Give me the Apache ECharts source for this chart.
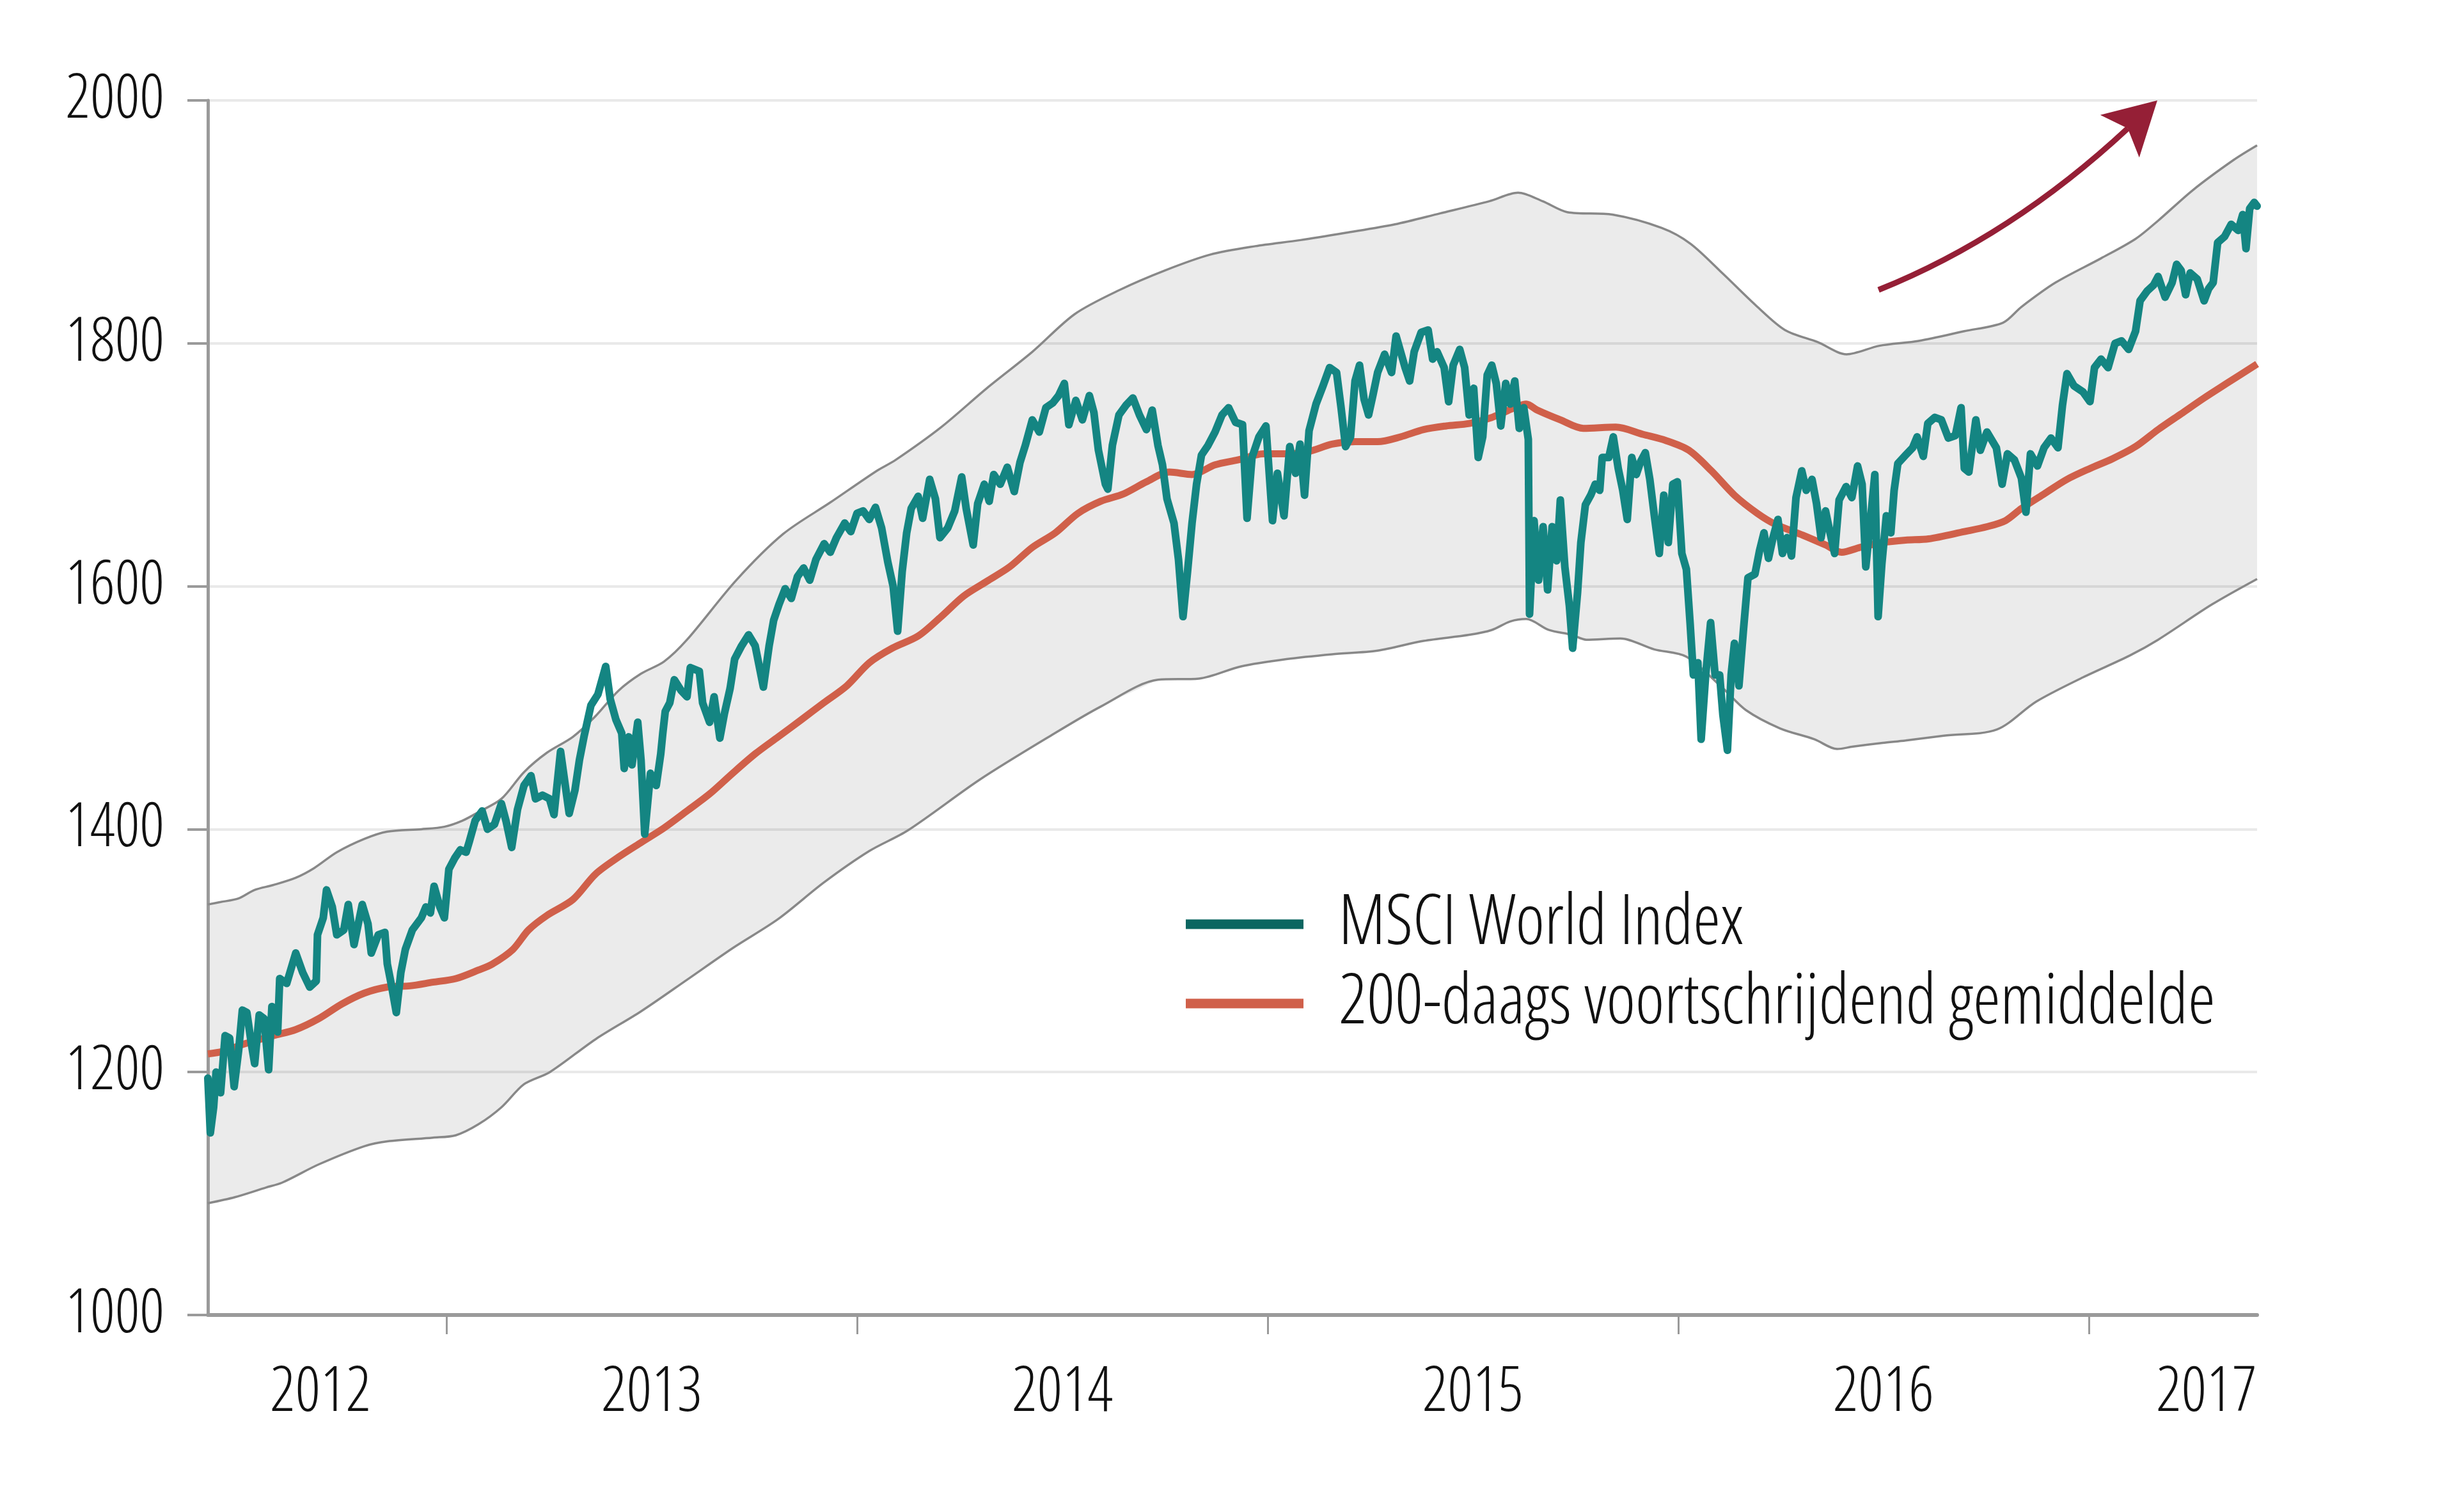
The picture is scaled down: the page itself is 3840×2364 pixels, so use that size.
<!DOCTYPE html>
<html><head><meta charset="utf-8">
<script src="https://cdn.jsdelivr.net/npm/echarts@6/dist/echarts.min.js"></script>
<style>html,body{margin:0;padding:0;background:#fff}#c{width:3840px;height:2364px}</style>
</head><body><div id="c"></div>
<script>
// ---- Data (x = decimal year) ----
const msciDates = [2012.419,2012.425,2012.433,2012.439,2012.450,2012.461,2012.472,2012.483,2012.494,2012.503,2012.514,2012.525,2012.533,2012.544,2012.556,2012.567,2012.575,2012.589,2012.594,2012.611,2012.633,2012.650,2012.667,2012.683,2012.686,2012.700,2012.708,2012.722,2012.733,2012.750,2012.761,2012.775,2012.795,2012.809,2012.817,2012.834,2012.850,2012.856,2012.867,2012.878,2012.889,2012.900,2012.917,2012.939,2012.950,2012.961,2012.970,2012.984,2012.995,2013.006,2013.020,2013.034,2013.048,2013.056,2013.070,2013.087,2013.100,2013.117,2013.134,2013.145,2013.159,2013.173,2013.189,2013.206,2013.217,2013.234,2013.251,2013.262,2013.278,2013.299,2013.313,2013.324,2013.335,2013.352,2013.369,2013.388,2013.399,2013.413,2013.427,2013.433,2013.444,2013.452,2013.466,2013.474,2013.483,2013.497,2013.511,2013.522,2013.527,2013.533,2013.544,2013.555,2013.572,2013.586,2013.594,2013.616,2013.624,2013.641,2013.652,2013.666,2013.677,2013.691,2013.702,2013.719,2013.736,2013.752,2013.772,2013.786,2013.797,2013.810,2013.825,2013.840,2013.855,2013.870,2013.885,2013.900,2013.920,2013.935,2013.950,2013.970,2013.985,2014.000,2014.015,2014.030,2014.045,2014.060,2014.075,2014.088,2014.099,2014.110,2014.121,2014.132,2014.149,2014.160,2014.177,2014.191,2014.202,2014.221,2014.238,2014.255,2014.266,2014.283,2014.294,2014.310,2014.322,2014.333,2014.349,2014.366,2014.383,2014.397,2014.410,2014.427,2014.444,2014.460,2014.477,2014.491,2014.505,2014.516,2014.533,2014.549,2014.566,2014.577,2014.588,2014.605,2014.611,2014.622,2014.638,2014.655,2014.672,2014.688,2014.705,2014.719,2014.733,2014.744,2014.755,2014.772,2014.783,2014.794,2014.805,2014.816,2014.827,2014.839,2014.855,2014.872,2014.889,2014.905,2014.922,2014.939,2014.950,2014.962,2014.979,2014.996,2015.012,2015.024,2015.040,2015.054,2015.068,2015.079,2015.090,2015.101,2015.118,2015.135,2015.151,2015.168,2015.179,2015.190,2015.202,2015.213,2015.224,2015.235,2015.246,2015.257,2015.268,2015.285,2015.302,2015.313,2015.324,2015.335,2015.346,2015.357,2015.374,2015.391,2015.402,2015.413,2015.430,2015.441,2015.452,2015.468,2015.480,2015.491,2015.502,2015.513,2015.524,2015.535,2015.546,2015.557,2015.568,2015.580,2015.591,2015.602,2015.613,2015.624,2015.635,2015.638,2015.649,2015.660,2015.671,2015.682,2015.693,2015.704,2015.713,2015.724,2015.735,2015.743,2015.755,2015.763,2015.774,2015.787,2015.798,2015.809,2015.815,2015.831,2015.842,2015.854,2015.865,2015.876,2015.887,2015.898,2015.909,2015.920,2015.931,2015.942,2015.954,2015.965,2015.976,2015.987,2015.998,2016.009,2016.020,2016.029,2016.037,2016.048,2016.056,2016.067,2016.079,2016.090,2016.101,2016.109,2016.120,2016.129,2016.137,2016.148,2016.159,2016.170,2016.187,2016.198,2016.209,2016.220,2016.231,2016.243,2016.254,2016.265,2016.276,2016.287,2016.301,2016.312,2016.326,2016.337,2016.348,2016.359,2016.370,2016.381,2016.392,2016.409,2016.423,2016.437,2016.448,2016.457,2016.468,2016.479,2016.487,2016.496,2016.507,2016.518,2016.526,2016.535,2016.554,2016.571,2016.582,2016.597,2016.608,2016.625,2016.641,2016.658,2016.675,2016.689,2016.697,2016.708,2016.725,2016.736,2016.752,2016.775,2016.789,2016.802,2016.819,2016.836,2016.847,2016.858,2016.875,2016.891,2016.908,2016.925,2016.936,2016.947,2016.964,2016.986,2017.003,2017.014,2017.030,2017.047,2017.064,2017.080,2017.097,2017.114,2017.125,2017.142,2017.158,2017.169,2017.186,2017.203,2017.214,2017.225,2017.236,2017.247,2017.264,2017.281,2017.292,2017.303,2017.314,2017.331,2017.347,2017.364,2017.375,2017.383,2017.392,2017.403,2017.410];
const msciValues = [1195,1150,1171,1200,1183,1230,1228,1188,1218,1251,1249,1223,1207,1247,1244,1202,1254,1233,1277,1273,1298,1282,1270,1275,1313,1327,1350,1336,1313,1317,1338,1305,1338,1322,1298,1313,1315,1289,1270,1249,1282,1301,1317,1327,1336,1331,1353,1336,1327,1367,1376,1383,1381,1390,1407,1415,1400,1404,1421,1407,1385,1416,1436,1444,1425,1428,1425,1412,1464,1413,1432,1457,1476,1502,1511,1534,1507,1490,1479,1450,1476,1453,1488,1457,1396,1446,1436,1462,1479,1497,1504,1523,1514,1509,1533,1530,1504,1488,1509,1475,1495,1516,1540,1551,1560,1551,1517,1551,1572,1585,1598,1590,1608,1615,1605,1622,1635,1628,1640,1652,1645,1660,1662,1655,1665,1648,1620,1600,1563,1612,1644,1664,1674,1656,1688,1672,1640,1648,1662,1690,1664,1634,1668,1684,1670,1692,1684,1698,1678,1702,1716,1737,1727,1747,1751,1757,1767,1733,1753,1737,1757,1743,1712,1684,1680,1716,1741,1749,1755,1741,1729,1745,1716,1700,1672,1652,1622,1575,1612,1652,1684,1708,1716,1727,1741,1747,1735,1733,1656,1706,1723,1732,1654,1693,1658,1715,1693,1717,1675,1728,1750,1765,1780,1776,1747,1715,1723,1769,1782,1754,1741,1758,1776,1791,1776,1806,1793,1780,1769,1793,1809,1811,1787,1793,1780,1752,1782,1795,1780,1741,1763,1706,1723,1774,1782,1767,1732,1767,1750,1769,1730,1747,1721,1577,1654,1605,1649,1597,1649,1621,1671,1616,1584,1549,1595,1636,1667,1675,1684,1679,1706,1706,1723,1697,1679,1655,1706,1692,1703,1710,1688,1658,1627,1675,1636,1684,1686,1627,1614,1570,1527,1537,1474,1527,1570,1527,1527,1494,1465,1527,1553,1518,1564,1607,1610,1629,1644,1623,1640,1655,1627,1640,1625,1673,1695,1679,1688,1668,1640,1662,1644,1627,1671,1682,1673,1699,1684,1616,1653,1692,1575,1618,1658,1644,1679,1701,1708,1714,1723,1707,1734,1739,1737,1722,1724,1747,1697,1694,1737,1712,1727,1714,1684,1709,1704,1689,1661,1709,1699,1714,1722,1714,1749,1775,1765,1760,1752,1780,1787,1780,1800,1802,1795,1810,1835,1843,1848,1855,1838,1850,1865,1860,1840,1858,1853,1835,1845,1850,1883,1888,1898,1893,1906,1878,1911,1916,1913];

const maDates = [2012.419,2012.455,2012.506,2012.578,2012.633,2012.689,2012.745,2012.800,2012.856,2012.911,2012.967,2013.023,2013.078,2013.112,2013.162,2013.200,2013.245,2013.308,2013.363,2013.419,2013.474,2013.530,2013.586,2013.641,2013.697,2013.752,2013.808,2013.864,2013.919,2013.975,2014.030,2014.086,2014.149,2014.205,2014.260,2014.316,2014.372,2014.427,2014.483,2014.538,2014.594,2014.649,2014.705,2014.761,2014.816,2014.872,2014.927,2014.990,2015.046,2015.101,2015.157,2015.213,2015.268,2015.324,2015.380,2015.435,2015.491,2015.546,2015.574,2015.602,2015.630,2015.657,2015.713,2015.769,2015.848,2015.915,2015.970,2016.026,2016.081,2016.137,2016.193,2016.237,2016.304,2016.359,2016.398,2016.443,2016.498,2016.554,2016.610,2016.697,2016.752,2016.797,2016.836,2016.891,2016.947,2017.003,2017.058,2017.114,2017.169,2017.225,2017.281,2017.336,2017.410];
const maValues = [1215,1217,1223,1230,1235,1244,1256,1265,1270,1271,1274,1277,1284,1289,1301,1317,1329,1342,1363,1377,1389,1401,1415,1429,1446,1462,1476,1490,1504,1518,1537,1549,1559,1575,1592,1604,1616,1632,1644,1660,1670,1676,1686,1694,1692,1700,1704,1709,1709,1711,1717,1719,1719,1723,1729,1732,1734,1739,1743,1747,1750,1745,1737,1730,1731,1725,1720,1712,1695,1675,1660,1651,1642,1634,1628,1632,1636,1638,1639,1645,1649,1654,1664,1676,1688,1697,1705,1715,1729,1742,1755,1767,1783];

const upperDates = [2012.419,2012.450,2012.494,2012.533,2012.578,2012.633,2012.678,2012.733,2012.800,2012.856,2012.939,2012.995,2013.039,2013.078,2013.134,2013.189,2013.245,2013.308,2013.363,2013.419,2013.474,2013.530,2013.586,2013.706,2013.820,2013.935,2014.048,2014.094,2014.205,2014.316,2014.427,2014.530,2014.640,2014.750,2014.860,2014.970,2015.080,2015.190,2015.310,2015.420,2015.540,2015.610,2015.670,2015.730,2015.840,2015.960,2016.030,2016.110,2016.190,2016.260,2016.340,2016.410,2016.490,2016.586,2016.697,2016.791,2016.836,2016.919,2017.030,2017.114,2017.169,2017.253,2017.353,2017.410];
const upperValues = [1338,1340,1343,1350,1354,1360,1368,1381,1392,1398,1400,1402,1407,1414,1425,1447,1463,1476,1493,1514,1528,1538,1556,1605,1643,1669,1695,1704,1731,1763,1793,1824,1844,1860,1873,1880,1885,1891,1898,1907,1917,1924,1917,1908,1906,1895,1882,1857,1831,1811,1801,1791,1798,1802,1810,1817,1830,1850,1870,1886,1901,1926,1951,1963];

const lowerDates = [2012.419,2012.485,2012.561,2012.600,2012.689,2012.800,2012.856,2012.967,2013.023,2013.078,2013.134,2013.189,2013.252,2013.363,2013.474,2013.586,2013.697,2013.808,2013.919,2014.030,2014.124,2014.300,2014.472,2014.594,2014.733,2014.833,2014.935,2015.046,2015.157,2015.268,2015.380,2015.491,2015.546,2015.591,2015.630,2015.685,2015.741,2015.776,2015.859,2015.942,2016.020,2016.109,2016.165,2016.248,2016.332,2016.387,2016.426,2016.498,2016.554,2016.647,2016.776,2016.872,2016.986,2017.100,2017.169,2017.300,2017.410];
const lowerValues = [1092,1097,1105,1109,1124,1139,1143,1146,1148,1157,1171,1190,1200,1227,1250,1276,1302,1326,1356,1382,1399,1441,1477,1501,1523,1524,1534,1540,1544,1547,1555,1560,1564,1571,1573,1564,1560,1556,1557,1548,1542,1516,1498,1483,1474,1466,1468,1471,1473,1477,1482,1505,1525,1543,1556,1585,1606];

const yearTickValues = [2013, 2014, 2015, 2016, 2017];
const yearLabelPositions = [2012.693, 2013.5, 2014.5, 2015.5, 2016.5, 2017.287];
const yearLabels = ['2012', '2013', '2014', '2015', '2016', '2017'];
const xMin = 2012.419, xMax = 2017.41;

// annotation arrow (data coordinates)
const arrowCurve = [[2016.488, 1844], [2016.812, 1888], [2017.095, 1977]];
const arrowHead = [[2017.167, 2000], [2017.028, 1988], [2017.095, 1977], [2017.123, 1953]];

// ---- Chart ----
const FONT = "'Open Sans','DejaVu Sans Condensed',sans-serif";
const STRETCH = '300 condensed';   // weight + stretch, placed in the weight slot of the canvas font shorthand
const zip = (a, b) => a.map((t, i) => [t, b[i]]);
const msci = zip(msciDates, msciValues);
const ma = zip(maDates, maValues);
const upper = zip(upperDates, upperValues);
const lower = zip(lowerDates, lowerValues);

const chart = echarts.init(document.getElementById('c'), null, { renderer: 'canvas' });
chart.setOption({
  animation: false,
  backgroundColor: '#ffffff',
  grid: { left: 325, right: 311, top: 157, bottom: 308, outerBoundsMode: 'none' },
  xAxis: {
    type: 'value', min: xMin, max: xMax,
    axisLine: { show: true, onZero: false, lineStyle: { color: '#9a9a9a', width: 6 } },
    axisTick: { show: true, customValues: yearTickValues, length: 30, lineStyle: { color: '#9a9a9a', width: 3 } },
    axisLabel: {
      customValues: yearLabelPositions,
      formatter: (v) => { const i = yearLabelPositions.findIndex(p => Math.abs(p - v) < 1e-6); return i >= 0 ? yearLabels[i] : ''; },
      margin: 74, fontSize: 97, fontWeight: STRETCH, color: '#111111', fontFamily: FONT
    },
    splitLine: { show: false }
  },
  yAxis: {
    type: 'value', min: 1000, max: 2000, interval: 200,
    axisLine: { show: true, lineStyle: { color: '#9a9a9a', width: 5 } },
    axisTick: { show: true, length: 32, lineStyle: { color: '#9a9a9a', width: 4 } },
    axisLabel: { margin: 68, fontSize: 95, fontWeight: STRETCH, color: '#111111', fontFamily: FONT, formatter: (v) => String(v) },
    splitLine: { show: true, lineStyle: { color: 'rgba(0,0,0,0.085)', width: 4 } }
  },
  legend: {
    orient: 'vertical', left: 1849, top: 1386, itemGap: 16,
    itemWidth: 184, itemHeight: 15, icon: 'rect', selectedMode: false,
    textStyle: { fontSize: 108, lineHeight: 104, fontWeight: STRETCH, color: '#111111', fontFamily: FONT, padding: [0, 0, 0, 50] },
    data: [
      { name: 'MSCI World Index', itemStyle: { color: '#0b6661' } },
      { name: '200-daags voortschrijdend gemiddelde', itemStyle: { color: '#d0604a' } }
    ]
  },
  series: [
    {
      type: 'custom', name: 'band', z: -1, silent: true, clip: true, data: [[2015, 1500]],
      renderItem: (params, api) => {
        const pts = upper.map(p => api.coord(p)).concat(lower.slice().reverse().map(p => api.coord(p)));
        return { type: 'polygon', shape: { points: pts }, style: { fill: '#ebebeb' } };
      }
    },
    { type: 'line', name: 'upper', data: upper, showSymbol: false, symbol: 'none', silent: true, z: 3, smooth: 0.3,
      lineStyle: { color: '#888888', width: 3.5 } },
    { type: 'line', name: 'lower', data: lower, showSymbol: false, symbol: 'none', silent: true, z: 3, smooth: 0.3,
      lineStyle: { color: '#888888', width: 3.5 } },
    { type: 'line', name: '200-daags voortschrijdend gemiddelde', data: ma, showSymbol: false, symbol: 'none', z: 4, smooth: 0.3,
      itemStyle: { color: '#d0604a' }, lineStyle: { color: '#d0604a', width: 11, join: 'round' } },
    { type: 'line', name: 'MSCI World Index', data: msci, showSymbol: false, symbol: 'none', z: 5,
      itemStyle: { color: '#148582' }, lineStyle: { color: '#148582', width: 12, join: 'round', cap: 'round' } }
  ]
});

// arrow annotation anchored to data coordinates
const px = (p) => chart.convertToPixel({ gridIndex: 0 }, p);
const c = arrowCurve.map(px);
const h = arrowHead.map(px);
chart.setOption({
  graphic: [
    { type: 'bezierCurve', silent: true, z: 10,
      shape: { x1: c[0][0], y1: c[0][1], cpx1: c[1][0], cpy1: c[1][1], x2: c[2][0], y2: c[2][1] },
      style: { stroke: '#951f36', lineWidth: 9, fill: null, lineCap: 'butt' } },
    { type: 'polygon', silent: true, z: 10, shape: { points: h }, style: { fill: '#951f36' } }
  ]
});
</script></body></html>
